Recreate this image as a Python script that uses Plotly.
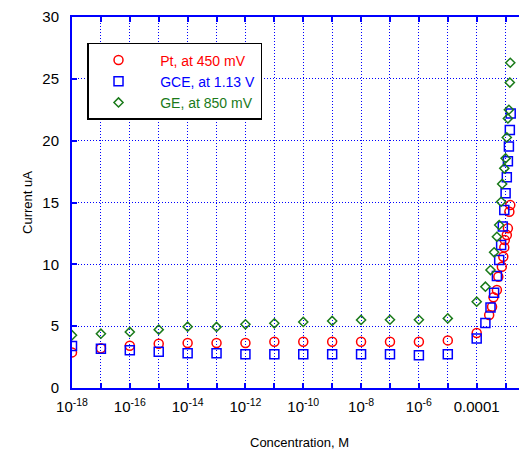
import plotly.graph_objects as go

# ---- data ----
decades = [1e-18, 1e-17, 1e-16, 1e-15, 1e-14, 1e-13, 1e-12, 1e-11, 1e-10,
           1e-9, 1e-8, 1e-7, 1e-6, 1e-5]

pt_low = [2.88, 3.21, 3.42, 3.58, 3.64, 3.64, 3.64, 3.74, 3.74, 3.74, 3.74, 3.74, 3.74, 3.85]
gce_low = [3.40, 3.18, 3.05, 2.94, 2.80, 2.80, 2.72, 2.72, 2.72, 2.72, 2.72, 2.72, 2.64, 2.73]
ge_low = [4.27, 4.39, 4.53, 4.72, 4.96, 4.94, 5.15, 5.23, 5.34, 5.42, 5.50, 5.52, 5.52, 5.63]

pt_hi_conc = [1e-4, 2.7e-4, 3.4e-4, 3.8e-4, 5.0e-4, 5.6e-4, 7.4e-4, 8.3e-4, 9.0e-4,
              9.4e-4, 1.1e-3, 1.2e-3, 1.35e-3, 1.45e-3]
pt_hi = [4.45, 5.90, 6.57, 7.33, 7.92, 9.00, 9.81, 10.61, 11.37, 11.96, 12.37, 12.91, 14.25, 14.79]

gce_hi_conc = [1e-4, 2e-4, 3e-4, 4e-4, 5e-4, 6e-4, 7e-4, 8e-4, 9e-4, 1.0e-3,
               1.1e-3, 1.2e-3, 1.3e-3, 1.4e-3, 1.5e-3]
gce_hi = [4.00, 5.25, 6.50, 7.70, 9.05, 10.35, 11.56, 13.05, 14.39, 15.74,
          17.05, 18.33, 19.53, 20.86, 22.20]

ge_hi_conc = [1e-4, 2e-4, 3e-4, 4e-4, 5e-4, 6e-4, 7e-4, 7.6e-4, 9e-4, 1.0e-3,
              1.1e-3, 1.2e-3, 1.3e-3, 1.4e-3, 1.45e-3]
ge_hi = [6.98, 8.19, 9.54, 10.97, 12.23, 13.18, 15.06, 16.50, 17.76, 18.57,
         20.26, 21.80, 22.50, 24.70, 26.30]

series_names = ["Pt, at 450 mV", "GCE, at 1.13 V", "GE, at 850 mV"]
series_colors = ["#ff0000", "#0000ff", "#1a7a1a"]

x_tickvals = [1e-18, 1e-17, 1e-16, 1e-15, 1e-14, 1e-13, 1e-12, 1e-11, 1e-10,
              1e-9, 1e-8, 1e-7, 1e-6, 1e-5, 1e-4, 1e-3]
x_ticktext = ["10<sup>-18</sup>", "", "10<sup>-16</sup>", "", "10<sup>-14</sup>", "",
              "10<sup>-12</sup>", "", "10<sup>-10</sup>", "", "10<sup>-8</sup>", "",
              "10<sup>-6</sup>", "", "0.0001", ""]
y_tickvals = [0, 5, 10, 15, 20, 25, 30]

FONT = "Arial, Liberation Sans, sans-serif"

fig = go.Figure()
specs = [
    (decades + pt_hi_conc, pt_low + pt_hi, "circle-open", 9),
    (decades + gce_hi_conc, gce_low + gce_hi, "square-open", 9),
    (decades + ge_hi_conc, ge_low + ge_hi, "diamond-open", 7),
]
for (xs, ys, sym, sz), name, col in zip(specs, series_names, series_colors):
    fig.add_trace(go.Scatter(
        x=xs, y=ys, mode="markers",
        name=f"<span style='color:{col}'>\u00a0\u00a0\u00a0{name}</span>",
        marker=dict(symbol=sym, size=sz, color=col, line=dict(color=col, width=1.5)),
    ))

# page body has an 8px margin: figure sits at (8, 8) in the window
fig.update_layout(
    width=519, height=442,
    margin=dict(l=64, r=0, t=9, b=62),
    paper_bgcolor="white", plot_bgcolor="white",
    font=dict(family=FONT, size=14, color="black"),
    showlegend=True,
    legend=dict(
        x=0.033, y=0.93, xanchor="left", yanchor="top",
        bgcolor="white", bordercolor="black", borderwidth=1.5,
        font=dict(family=FONT, size=14),
        itemwidth=50, tracegroupgap=0,
    ),
)
fig.update_xaxes(
    type="log", range=[-18, -2.26],
    tickmode="array", tickvals=x_tickvals, ticktext=x_ticktext,
    ticks="inside", ticklen=5, tickwidth=1.5, tickcolor="#0000ff",
    showline=True, linecolor="#0000ff", linewidth=2, mirror="ticks",
    showgrid=True, gridcolor="#0000ff", griddash="1px,2px", gridwidth=1,
    zeroline=False, ticklabelstandoff=4,
    tickfont=dict(family=FONT, size=15),
    title=dict(text="Concentration, M", font=dict(family=FONT, size=13), standoff=24),
)
fig.update_yaxes(
    range=[0, 30], tickmode="array", tickvals=y_tickvals,
    ticks="inside", ticklen=5, tickwidth=1.5, tickcolor="#0000ff",
    showline=True, linecolor="#0000ff", linewidth=2, mirror=False,
    showgrid=True, gridcolor="#0000ff", griddash="1px,2px", gridwidth=1,
    zeroline=False, ticklabelstandoff=8,
    tickfont=dict(family=FONT, size=15),
    title=dict(text="Current uA", font=dict(family=FONT, size=13), standoff=7),
)

fig.write_html("out.html")
